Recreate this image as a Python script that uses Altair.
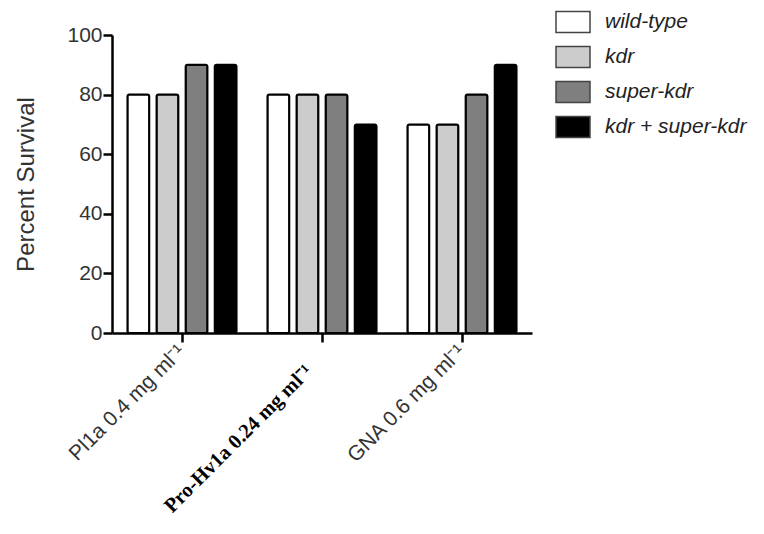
import altair as alt
import pandas as pd

groups = ["Pl1a 0.4 mg ml⁻¹", "Pro-Hv1a 0.24 mg ml⁻¹", "GNA 0.6 mg ml⁻¹"]
strains = ["wild-type", "kdr", "super-kdr", "kdr + super-kdr"]
wild_type = [80, 80, 70]
kdr = [80, 80, 70]
super_kdr = [90, 80, 80]
kdr_super_kdr = [90, 70, 90]
colors = ["#ffffff", "#cccccc", "#7f7f7f", "#000000"]

series = [wild_type, kdr, super_kdr, kdr_super_kdr]
rows = []
for s, vals in zip(strains, series):
    for g, v in zip(groups, vals):
        rows.append({"group": g, "strain": s, "value": v})
df = pd.DataFrame(rows)

mid = groups[1]
test = f"datum.value == '{mid}'"

chart = alt.Chart(df).mark_bar(stroke="black", strokeWidth=2, cornerRadius=2).encode(
    x=alt.X(
        "group:N", sort=groups,
        scale=alt.Scale(paddingInner=0.2, paddingOuter=0.1),
        axis=alt.Axis(
            title=None, labelAngle=-45, labelBaseline="middle", labelLimit=400,
            labelFont={"condition": {"test": test, "value": "Liberation Serif"}, "value": "Liberation Sans"},
            labelFontWeight={"condition": {"test": test, "value": "bold"}, "value": "normal"},
            labelFontSize={"condition": {"test": test, "value": 20.5}, "value": 21},
            labelColor={"condition": {"test": test, "value": "#000000"}, "value": "#333333"},
            labelOffset={"condition": {"test": test, "value": -13}, "value": 0},
            labelPadding={"condition": {"test": test, "value": 26}, "value": 6},
        ),
    ),
    xOffset=alt.XOffset("strain:N", sort=strains,
                        scale=alt.Scale(paddingInner=0.25, paddingOuter=0.05)),
    y=alt.Y(
        "value:Q", scale=alt.Scale(domain=[0, 100]),
        axis=alt.Axis(values=[0, 20, 40, 60, 80, 100], title="Percent Survival",
                      titleFontWeight="normal", titleFontSize=24, titleColor="#333333",
                      titleFont="Liberation Sans", titlePadding=28, labelPadding=1),
    ),
    fill=alt.Fill(
        "strain:N",
        scale=alt.Scale(domain=strains, range=colors),
        legend=alt.Legend(
            title=None, orient="none", legendX=443, legendY=-31,
            symbolType="M-1,-0.62H1V0.62H-1Z", symbolSize=1156,
            symbolStrokeColor="#444444",
            symbolStrokeWidth=1.5, symbolOpacity=1,
            labelFontSize=21, labelFontStyle="italic", labelFont="Liberation Sans",
            labelColor="#222222", rowPadding=3, labelOffset=14, labelLimit=300,
        ),
    ),
).properties(
    width=420, height=298, autosize="none",
    padding={"left": 104, "top": 27, "right": 224, "bottom": 180},
).configure_view(stroke=None).configure_axis(
    grid=False, domainColor="black", domainWidth=2.5, tickColor="black",
    tickWidth=2.5, tickSize=9, labelFont="Liberation Sans", labelFontSize=21,
    labelColor="#333333",
)

chart.save("out.html", embed_options={"renderer": "svg", "actions": False})
